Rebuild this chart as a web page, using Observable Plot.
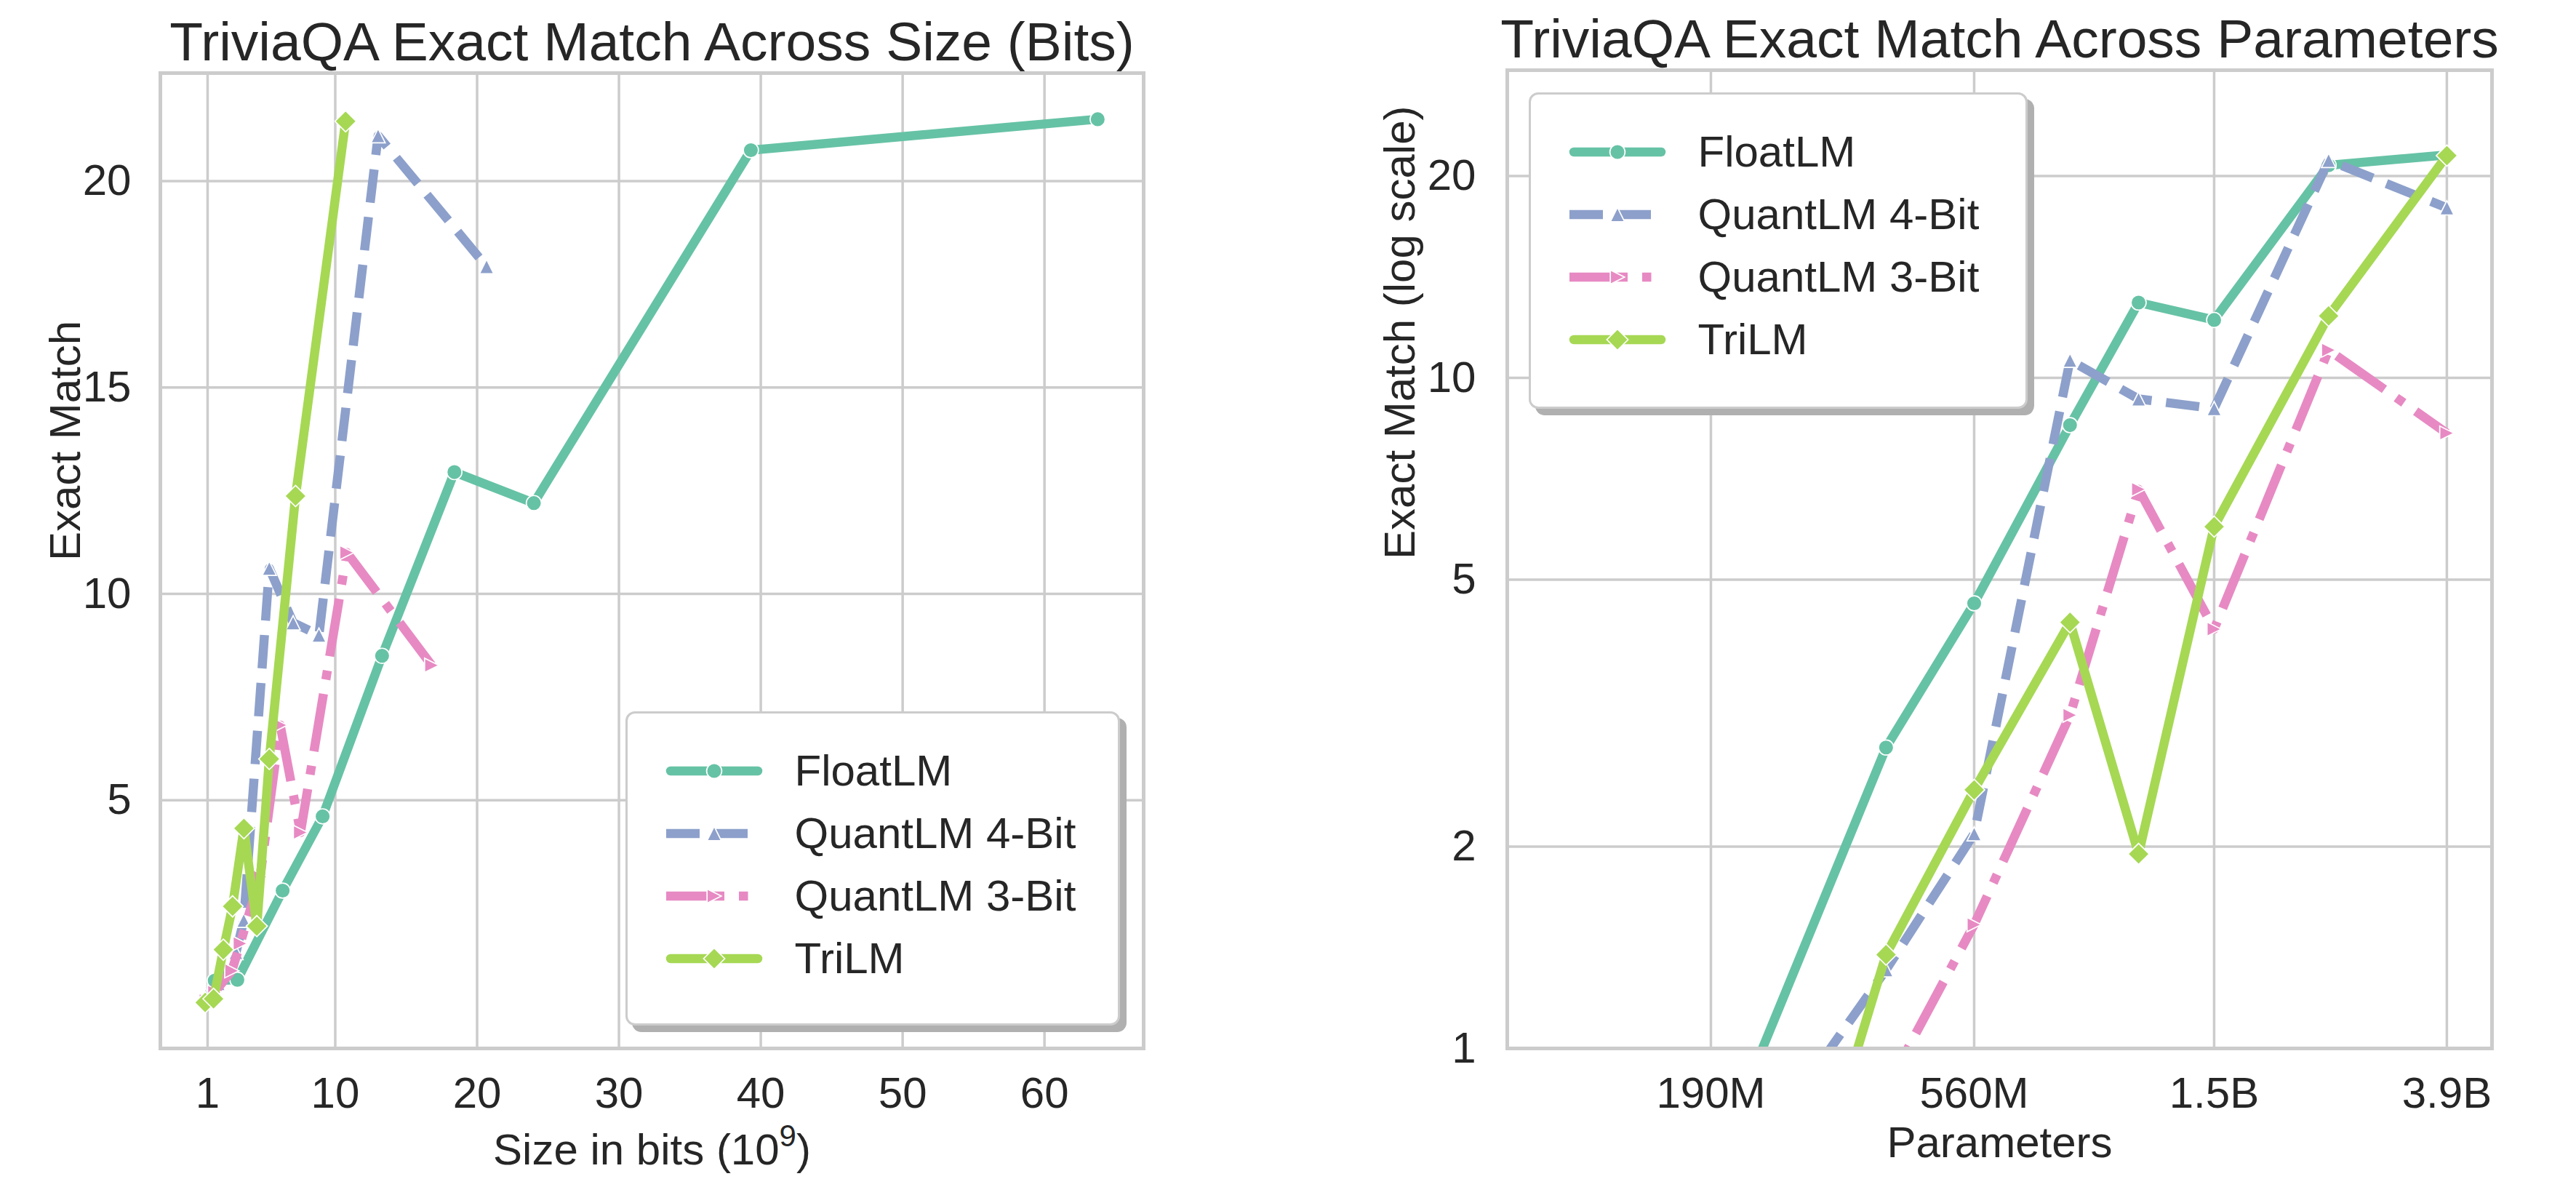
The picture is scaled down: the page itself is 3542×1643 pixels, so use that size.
<!DOCTYPE html>
<html>
<head>
<meta charset="utf-8">
<script src="https://cdn.jsdelivr.net/npm/d3@7"></script>
<script src="https://cdn.jsdelivr.net/npm/@observablehq/plot@0.6"></script>
<style>
  html, body { margin: 0; padding: 0; background: #ffffff; }
  #fig { position: relative; width: 3542px; height: 1643px; overflow: hidden; background: #ffffff;
         font-family: "Liberation Sans", Arial, sans-serif; color: #262626; }
  #fig .panel { position: absolute; top: 0; }
  .legend { position: absolute; background: #ffffff; border: 3.5px solid #cccccc; border-radius: 13px;
            box-shadow: 9px 9px 0 #b0b0b0; box-sizing: border-box; }
  .legend .lab { position: absolute; font-size: 60px; line-height: 1; white-space: nowrap; color: #262626; }
  .legend svg { position: absolute; overflow: visible; }
</style>
</head>
<body>
<div id="fig"></div>
<script>
// ---------------- data ----------------
const modelParams = [99e6, 190e6, 390e6, 560e6, 830e6, 1.1e9, 1.5e9, 2.4e9, 3.9e9];
const seriesNames = ["FloatLM", "QuantLM 4-Bit", "QuantLM 3-Bit", "TriLM"];

const floatBits  = [1.5, 3.1, 6.29, 9.11, 13.3, 18.4, 24.0, 39.3, 63.75];
const floatEM    = [0.63, 0.65, 2.81, 4.61, 8.5, 12.95, 12.2, 20.75, 21.5];
const quant4Bits = [1.05, 1.75, 3.0, 3.55, 5.35, 7.03, 8.85, 13.02, 20.67];
const quant4EM   = [0.30, 0.56, 1.31, 2.09, 10.62, 9.3, 9.0, 21.1, 17.93];
const quant3Bits = [0.9, 1.5, 2.71, 3.3, 4.7, 6.12, 7.55, 10.82, 16.8];
const quant3EM   = [0.15, 0.35, 0.87, 1.53, 3.14, 6.82, 4.22, 11.0, 8.27];
const triBits    = [0.83, 1.42, 2.11, 2.76, 3.56, 4.47, 5.35, 7.2, 10.73];
const triEM      = [0.10, 0.19, 1.38, 2.43, 4.32, 1.95, 6.0, 12.37, 21.45];

const bitsTicks = [1, 10, 20, 30, 40, 50, 60];
const emTicksLinear = [5, 10, 15, 20];
const paramTicks = [190e6, 560e6, 1.5e9, 3.9e9];
const paramTickLabels = ["190M", "560M", "1.5B", "3.9B"];
const emTicksLog = [1, 2, 5, 10, 20];

const titles = ["TriviaQA Exact Match Across Size (Bits)", "TriviaQA Exact Match Across Parameters"];
const xLabelLeftParts = ["Size in bits (10", "9", ")"];
const xLabels = [xLabelLeftParts.join(""), "Parameters"];
const yLabels = ["Exact Match", "Exact Match (log scale)"];

// ---------------- build rows ----------------
const bitsBySeries = [floatBits, quant4Bits, quant3Bits, triBits];
const emBySeries = [floatEM, quant4EM, quant3EM, triEM];
const rows = [];
seriesNames.forEach((s, i) => {
  modelParams.forEach((p, j) => {
    rows.push({series: s, params: p, bits: bitsBySeries[i][j], em: emBySeries[i][j]});
  });
});

// ---------------- styles ----------------
function rad(size) { return Math.sqrt(size / Math.PI); }
const symCircle = {draw(c, size) { const r = rad(size); c.moveTo(r, 0); c.arc(0, 0, r, 0, 2 * Math.PI); c.closePath(); }};
const symTriUp = {draw(c, size) { const r = rad(size); c.moveTo(0, -r); c.lineTo(r, r); c.lineTo(-r, r); c.closePath(); }};
const symTriRight = {draw(c, size) { const r = rad(size); c.moveTo(r, 0); c.lineTo(-r, r); c.lineTo(-r, -r); c.closePath(); }};
const symDiamond = {draw(c, size) { const r = rad(size) * 1.414; c.moveTo(0, -r); c.lineTo(r, 0); c.lineTo(0, r); c.lineTo(-r, 0); c.closePath(); }};

const LW = 12.5;
const styles = {
  "FloatLM":       {color: "#66c2a5", dash: null, symbol: symCircle, r: 10.4},
  "QuantLM 4-Bit": {color: "#8da0cb", dash: "46,20", symbol: symTriUp, r: 9.8},
  "QuantLM 3-Bit": {color: "#e78ac3", dash: "80,20,12.5,20", symbol: symTriRight, r: 9.8},
  "TriLM":         {color: "#a6d854", dash: null, symbol: symDiamond, r: 10.3}
};

function seriesMarks(xKey, clip) {
  const marks = [];
  for (const s of seriesNames) {
    const st = styles[s];
    const data = rows.filter(d => d.series === s);
    marks.push(Plot.line(data, {
      x: xKey, y: "em", stroke: st.color, strokeWidth: LW,
      strokeDasharray: st.dash || undefined,
      strokeLinecap: st.dash ? "butt" : "round", strokeLinejoin: "round", clip
    }));
    marks.push(Plot.dot(data, {
      x: xKey, y: "em", symbol: st.symbol, r: st.r, fill: st.color,
      stroke: "#ffffff", strokeWidth: 1.7, clip
    }));
  }
  return marks;
}

const GRID = "#cccccc";
const fontFamily = "'Liberation Sans', Arial, sans-serif";

// ---------------- left panel ----------------
const left = Plot.plot({
  width: 1771, height: 1643,
  marginLeft: 220, marginRight: 199, marginTop: 100, marginBottom: 202,
  style: {fontFamily, fontSize: "60px", color: "#262626", background: "#ffffff", overflow: "visible"},
  x: {type: "linear", domain: [-2.33, 66.99]},
  y: {type: "linear", domain: [-1.013, 22.617]},
  marks: [
    Plot.gridX({ticks: bitsTicks, stroke: GRID, strokeOpacity: 1, strokeWidth: 3.5}),
    Plot.gridY({ticks: emTicksLinear, stroke: GRID, strokeOpacity: 1, strokeWidth: 3.5}),
    ...seriesMarks("bits", false),
    Plot.frame({stroke: GRID, strokeWidth: 5}),
    Plot.axisX({ticks: bitsTicks, tickSize: 0, tickPadding: 39, fontSize: 60, label: null, tickFormat: d => String(d)}),
    Plot.axisY({ticks: emTicksLinear, tickSize: 0, tickPadding: 40, fontSize: 60, label: null, tickFormat: d => String(d)}),
    Plot.text([titles[0]], {text: d => d, frameAnchor: "top", dy: -42, fontSize: 75, lineAnchor: "middle", fill: "#262626"}),
    Plot.text([xLabels[0]], {text: d => d, frameAnchor: "bottom", dy: 140, fontSize: 60, lineAnchor: "middle", fill: "#262626"}),
    Plot.text([yLabels[0]], {text: d => d, frameAnchor: "left", dx: -130, rotate: -90, fontSize: 60, lineAnchor: "middle", fill: "#262626"})
  ]
});
left.classList.add("panel");
left.style.left = "0px";

// superscript exponent in the x label
d3.select(left).selectAll("text").each(function () {
  if (this.textContent === xLabels[0] && this.childElementCount === 0) {
    const t = d3.select(this);
    t.text(null);
    t.append("tspan").text(xLabelLeftParts[0]);
    t.append("tspan").attr("dy", -25).attr("font-size", 42).text(xLabelLeftParts[1]);
    t.append("tspan").attr("dy", 25).text(xLabelLeftParts[2]);
  }
});

// ---------------- right panel ----------------
const right = Plot.plot({
  width: 1771, height: 1643,
  marginLeft: 301, marginRight: 116, marginTop: 96, marginBottom: 202,
  style: {fontFamily, fontSize: "60px", color: "#262626", background: "#ffffff", overflow: "visible"},
  x: {type: "log", domain: [8.235e7, 4.694e9]},
  y: {type: "log", domain: [1, 28.76]},
  marks: [
    Plot.gridX({ticks: paramTicks, stroke: GRID, strokeOpacity: 1, strokeWidth: 3.5}),
    Plot.gridY({ticks: emTicksLog, stroke: GRID, strokeOpacity: 1, strokeWidth: 3.5}),
    ...seriesMarks("params", true),
    Plot.frame({stroke: GRID, strokeWidth: 5}),
    Plot.axisX({ticks: paramTicks, tickSize: 0, tickPadding: 39, fontSize: 60, label: null,
                tickFormat: d => paramTickLabels[paramTicks.indexOf(d)]}),
    Plot.axisY({ticks: emTicksLog, tickSize: 0, tickPadding: 43, fontSize: 60, label: null, tickFormat: d => String(d)}),
    Plot.text([titles[1]], {text: d => d, frameAnchor: "top", dy: -42, fontSize: 75, lineAnchor: "middle", fill: "#262626"}),
    Plot.text([xLabels[1]], {text: d => d, frameAnchor: "bottom", dy: 130, fontSize: 60, lineAnchor: "middle", fill: "#262626"}),
    Plot.text([yLabels[1]], {text: d => d, frameAnchor: "left", dx: -147, rotate: -90, fontSize: 60, lineAnchor: "middle", fill: "#262626"})
  ]
});
right.classList.add("panel");
right.style.left = "1771px";

const fig = document.getElementById("fig");
fig.appendChild(left);
fig.appendChild(right);

// ---------------- legends ----------------
const rowOffsets = [82, 168, 254, 340];
function buildLegend(x, y, w, h) {
  const box = document.createElement("div");
  box.className = "legend";
  Object.assign(box.style, {left: x + "px", top: y + "px", width: w + "px", height: h + "px"});
  seriesNames.forEach((name, i) => {
    const st = styles[name];
    const cy = rowOffsets[i] - 3.5;
    const svg = d3.create("svg").attr("width", 150).attr("height", 50)
      .style("left", (56 - 3.5 - 9) + "px").style("top", (cy - 25) + "px");
    const line = svg.append("line")
      .attr("x1", st.dash ? 9 : 15).attr("x2", st.dash ? 141 : 135)
      .attr("y1", 25).attr("y2", 25)
      .attr("stroke", st.color).attr("stroke-width", LW)
      .attr("stroke-linecap", st.dash ? "butt" : "round");
    if (st.dash) line.attr("stroke-dasharray", st.dash);
    const p = d3.path();
    st.symbol.draw(p, st.r * st.r * Math.PI);
    svg.append("path").attr("d", p.toString()).attr("transform", "translate(75,25)")
      .attr("fill", st.color).attr("stroke", "#ffffff").attr("stroke-width", 1.7);
    box.appendChild(svg.node());
    const lab = document.createElement("div");
    lab.className = "lab";
    lab.textContent = name;
    lab.style.left = (233 - 3.5) + "px";
    lab.style.top = (cy - 30) + "px";
    box.appendChild(lab);
  });
  fig.appendChild(box);
}
buildLegend(860, 978, 680, 432);
buildLegend(2102, 127, 686, 435);
</script>
</body>
</html>
